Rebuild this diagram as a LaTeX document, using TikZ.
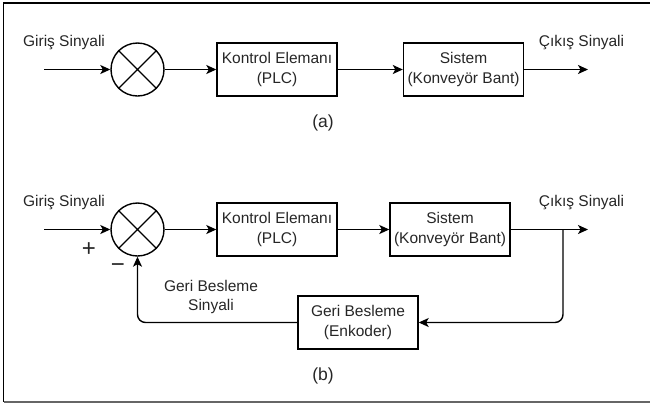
\documentclass[tikz,border=0pt]{standalone}
\usepackage{fontspec}
\setmainfont{Liberation Sans}
\usetikzlibrary{arrows.meta}
\begin{document}
\begin{tikzpicture}[x=1pt,y=-1pt,
 every node/.style={font=\fontsize{15.5}{19.5}\selectfont, text=black!85},
 blockbox/.style={draw, line width=1.4pt, minimum width=120pt, minimum height=53pt, inner sep=0pt, align=center},
 sumnode/.style={draw, circle, line width=1.4pt, minimum size=53pt, inner sep=0pt},
 sig/.style={line width=1.4pt, -{Stealth[length=10pt,width=9pt,inset=2.5pt]}},
 lbl/.style={inner sep=0pt, align=center},
 biglbl/.style={inner sep=0pt, font=\fontsize{17.5}{20}\selectfont},
 signlbl/.style={inner sep=0pt, font=\fontsize{24}{26}\selectfont}]
\useasboundingbox (0,0) rectangle (650,405);
\draw[line width=1.6pt] (650,3) -- (3.5,3) -- (3.5,402);
\draw[line width=2pt, black!60] (3.5,402) -- (650,402);

% (a)
\node[sumnode] (s1) at (137.5,69.5) {};
\draw[line width=1.4pt] (s1.45) -- (s1.225) (s1.135) -- (s1.315);
\node[blockbox] (k1) at (277,69.5) {Kontrol Elemanı\\(PLC)};
\node[blockbox] (g1) at (463.5,69.5) {Sistem\\(Konveyör Bant)};
\coordinate (in1) at (44,69.5);
\coordinate (out1) at (588,69.5);
\draw[sig] (in1) -- (s1);
\draw[sig] (s1) -- (k1);
\draw[sig] (k1) -- (g1);
\draw[sig] (g1) -- (out1);
\node[lbl] (gi1) at (64,43) {Giriş Sinyali};
\node[lbl] (co1) at (581.5,43) {Çıkış Sinyali};
\node[biglbl] (la) at (323,123) {(a)};

% (b)
\node[sumnode] (s2) at (137.5,229.5) {};
\draw[line width=1.4pt] (s2.45) -- (s2.225) (s2.135) -- (s2.315);
\node[blockbox] (k2) at (277,229.5) {Kontrol Elemanı\\(PLC)};
\node[blockbox] (g2) at (450,229.5) {Sistem\\(Konveyör Bant)};
\node[blockbox] (fb) at (358,322.5) {Geri Besleme\\(Enkoder)};
\coordinate (in2) at (44,229.5);
\coordinate (out2) at (588,229.5);
\coordinate (br) at (563,229.5);
\draw[sig] (in2) -- (s2);
\draw[sig] (s2) -- (k2);
\draw[sig] (k2) -- (g2);
\draw[sig] (g2) -- (out2);
\draw[sig, rounded corners=8pt] (br) |- (fb);
\draw[sig, rounded corners=8pt] (fb) -| (s2);
\node[lbl] (gi2) at (64,203) {Giriş Sinyali};
\node[lbl] (co2) at (581.5,203) {Çıkış Sinyali};
\node[lbl] (fbl) at (211,297) {Geri Besleme\\Sinyali};
\node[signlbl] (plus) at (89,250) {+};
\node[signlbl] (minus) at (118,268) {−};
\node[biglbl] (lb) at (323,376) {(b)};
\end{tikzpicture}
\end{document}
